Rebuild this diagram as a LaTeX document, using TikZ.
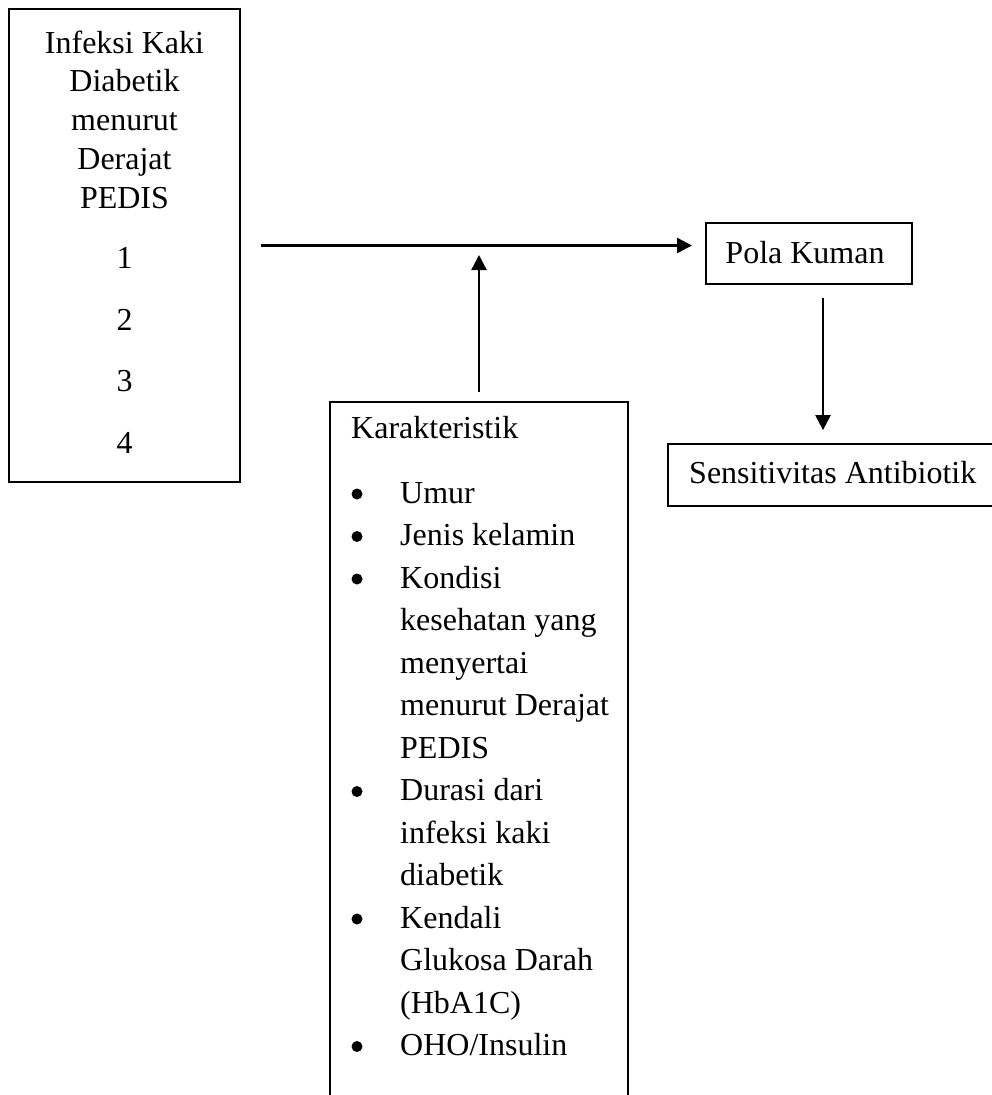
\documentclass[tikz,border=0pt]{standalone}
\usepackage{fontspec}
\setmainfont{Liberation Serif}
\usetikzlibrary{arrows.meta}
\begin{document}
\begin{tikzpicture}[x=1pt,y=-1pt,
  box/.style={draw, line width=1.8pt, inner sep=0pt},
  ctxt/.style={anchor=base, inner sep=0pt, font=\fontsize{32}{38}\selectfont},
  ltxt/.style={anchor=base west, inner sep=0pt, font=\fontsize{32}{38}\selectfont},
  bul/.style={circle, fill, inner sep=0pt, minimum size=11pt},
  arr/.style={line width=2.4pt, -{Triangle[length=15pt,width=15pt]}}]
\useasboundingbox (0,0) rectangle (991,1095);
\fill[white] (0,0) rectangle (991,1095);

% left box
\node[box, minimum width=231pt, minimum height=473pt] (pedis) at (124.5,245.5) {};
\node[ctxt] (p1) at (124.5,53) {Infeksi Kaki};
\node[ctxt] (p2) at (124.5,91.75) {Diabetik};
\node[ctxt] (p3) at (124.5,130.5) {menurut};
\node[ctxt] (p4) at (124.5,169.25) {Derajat};
\node[ctxt] (p5) at (124.5,208) {PEDIS};
\node[ctxt] (n1) at (124.5,268.5) {1};
\node[ctxt] (n2) at (124.5,330) {2};
\node[ctxt] (n3) at (124.5,391.5) {3};
\node[ctxt] (n4) at (124.5,453) {4};

% Pola Kuman
\node[box, minimum width=206pt, minimum height=61pt] (pola) at (809,253.5) {};
\node[ctxt] (polat) at (805,263) {Pola Kuman};

% Sensitivitas
\node[box, minimum width=352pt, minimum height=62pt] (sens) at (844,475) {};
\node[ltxt] (senst) at (689,483) {Sensitivitas Antibiotik};

% Karakteristik (open at the bottom)
\node[box, minimum width=298pt, minimum height=760pt, anchor=north] (kar) at (479,401) {};
\node[ltxt] (kt) at (351,438) {Karakteristik};
\node[ltxt] (k1) at (400,503) {Umur};
\node[ltxt] (k2) at (400,545.5) {Jenis kelamin};
\node[ltxt] (k3) at (400,588) {Kondisi};
\node[ltxt] (k4) at (400,630.5) {kesehatan yang};
\node[ltxt] (k5) at (400,673) {menyertai};
\node[ltxt] (k6) at (400,715.5) {menurut Derajat};
\node[ltxt] (k7) at (400,758) {PEDIS};
\node[ltxt] (k8) at (400,800.5) {Durasi dari};
\node[ltxt] (k9) at (400,843) {infeksi kaki};
\node[ltxt] (k10) at (400,885.5) {diabetik};
\node[ltxt] (k11) at (400,928) {Kendali};
\node[ltxt] (k12) at (400,970.5) {Glukosa Darah};
\node[ltxt] (k13) at (400,1013) {(HbA1C)};
\node[ltxt] (k14) at (400,1055.5) {OHO/Insulin};
\node[bul] (b1) at (357,494) {};
\node[bul] (b2) at (357,536.5) {};
\node[bul] (b3) at (357,579) {};
\node[bul] (b4) at (357,791.5) {};
\node[bul] (b5) at (357,919) {};
\node[bul] (b6) at (357,1046.5) {};

% connectors
\coordinate (hs) at ([xshift=20pt]pedis.east);
\coordinate (he) at (692,245.5);
\draw[arr] (hs) -- (he);
\draw[arr] ([yshift=9pt]kar.north) -- ([yshift=-9.5pt]kar.north |- hs);
\draw[arr] ([xshift=14pt,yshift=-13pt]pola.south) -- ([xshift=-21pt,yshift=13pt]sens.north);
\end{tikzpicture}
\end{document}
